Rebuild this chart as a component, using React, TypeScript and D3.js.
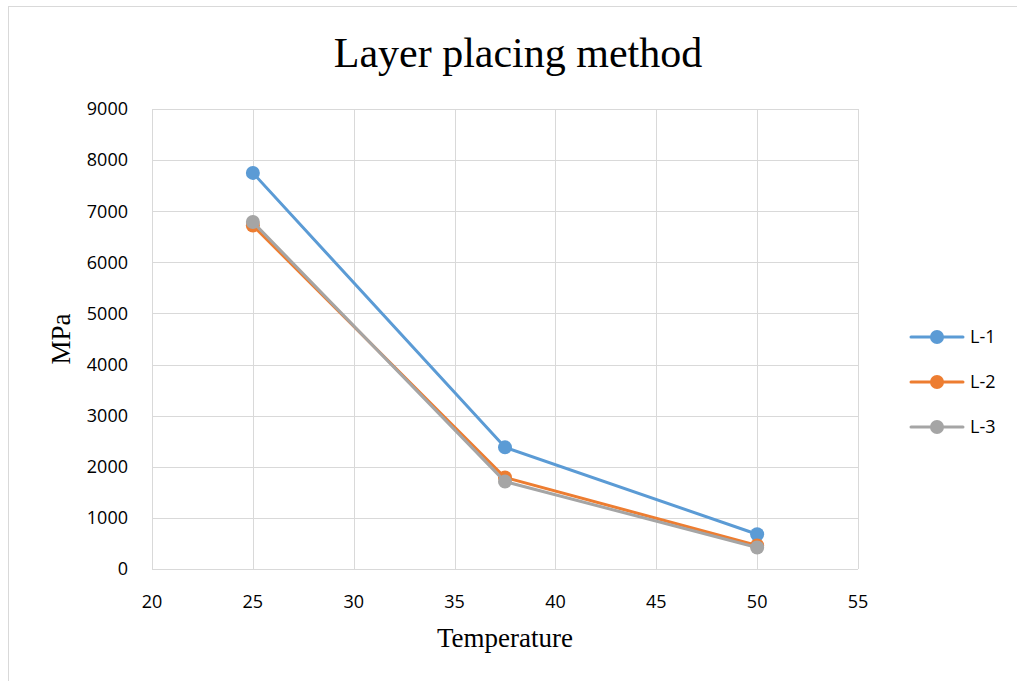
import React, { useEffect, useRef } from "react";
import * as d3 from "d3";

const temps = [25, 37.5, 50];
const seriesNames = ["L-1", "L-2", "L-3"];
const l1 = [7750, 2380, 680];
const l2 = [6720, 1790, 460];
const l3 = [6790, 1710, 420];
const colors = ["#5B9BD5", "#ED7D31", "#A5A5A5"];
const xTicks = [20, 25, 30, 35, 40, 45, 50, 55];
const yTicks = [0, 1000, 2000, 3000, 4000, 5000, 6000, 7000, 8000, 9000];

const W = 1017;
const H = 681;

export default function App() {
  const svgRef = useRef(null);

  useEffect(() => {
    const svg = d3.select(svgRef.current);
    svg.selectAll("*").remove();

    const x = d3.scaleLinear().domain([20, 55]).range([152, 858]);
    const y = d3.scaleLinear().domain([0, 9000]).range([569, 109]);
    const sans = "'Open Sans', 'Liberation Sans', Arial, sans-serif";
    const serif = "'Liberation Serif', 'Times New Roman', serif";

    // chart border
    svg
      .append("rect")
      .attr("x", 8.5)
      .attr("y", 6.5)
      .attr("width", W + 20)
      .attr("height", H + 20)
      .attr("fill", "#fff")
      .attr("stroke", "#D9D9D9");

    // gridlines
    const grid = svg.append("g").attr("stroke", "#D9D9D9").attr("stroke-width", 1);
    grid
      .selectAll("line.h")
      .data(yTicks)
      .join("line")
      .attr("x1", x(20))
      .attr("x2", x(55))
      .attr("y1", (d) => Math.round(y(d)) + 0.5)
      .attr("y2", (d) => Math.round(y(d)) + 0.5);
    grid
      .selectAll("line.v")
      .data(xTicks)
      .join("line")
      .attr("y1", y(0))
      .attr("y2", y(9000))
      .attr("x1", (d) => Math.round(x(d)) + 0.5)
      .attr("x2", (d) => Math.round(x(d)) + 0.5);

    // tick labels
    svg
      .append("g")
      .attr("font-family", sans)
      .attr("font-size", 18)
      .attr("fill", "#000")
      .attr("text-anchor", "end")
      .selectAll("text")
      .data(yTicks)
      .join("text")
      .attr("x", 128)
      .attr("y", (d) => y(d))
      .attr("dy", "0.35em")
      .text((d) => d);

    svg
      .append("g")
      .attr("font-family", sans)
      .attr("font-size", 18)
      .attr("fill", "#000")
      .attr("text-anchor", "middle")
      .selectAll("text")
      .data(xTicks)
      .join("text")
      .attr("x", (d) => x(d))
      .attr("y", 608)
      .text((d) => d);

    // title & axis labels
    svg
      .append("text")
      .attr("x", 518)
      .attr("y", 67)
      .attr("text-anchor", "middle")
      .attr("font-family", serif)
      .attr("font-size", 42)
      .text("Layer placing method");

    svg
      .append("text")
      .attr("x", 505)
      .attr("y", 647)
      .attr("text-anchor", "middle")
      .attr("font-family", serif)
      .attr("font-size", 27)
      .text("Temperature");

    svg
      .append("text")
      .attr("transform", `translate(70,339) rotate(-90)`)
      .attr("text-anchor", "middle")
      .attr("font-family", serif)
      .attr("font-size", 27)
      .text("MPa");

    // series
    const all = [l1, l2, l3];
    const line = d3
      .line<number>()
      .x((_, i) => x(temps[i]))
      .y((d) => y(d));

    all.forEach((vals, s) => {
      const g = svg.append("g");
      g.append("path")
        .attr("d", line(vals))
        .attr("fill", "none")
        .attr("stroke", colors[s])
        .attr("stroke-width", 3)
        .attr("stroke-linejoin", "round")
        .attr("stroke-linecap", "round");
      g.selectAll("circle")
        .data(vals)
        .join("circle")
        .attr("cx", (_, i) => x(temps[i]))
        .attr("cy", (d) => y(d))
        .attr("r", 7)
        .attr("fill", colors[s]);
    });

    // legend
    const legend = svg
      .append("g")
      .selectAll("g")
      .data(seriesNames)
      .join("g")
      .attr("transform", (_, i) => `translate(911,${337 + i * 45})`);
    legend
      .append("line")
      .attr("x1", 0)
      .attr("x2", 52)
      .attr("stroke", (_, i) => colors[i])
      .attr("stroke-width", 3)
      .attr("stroke-linecap", "round");
    legend
      .append("circle")
      .attr("cx", 26)
      .attr("r", 7)
      .attr("fill", (_, i) => colors[i]);
    legend
      .append("text")
      .attr("x", 59)
      .attr("dy", "0.35em")
      .attr("font-family", sans)
      .attr("font-size", 18)
      .text((d) => d);
  }, []);

  return (
    <svg
      ref={svgRef}
      width={W}
      height={H}
      style={{ position: "absolute", left: 0, top: 0, background: "#fff" }}
    />
  );
}
